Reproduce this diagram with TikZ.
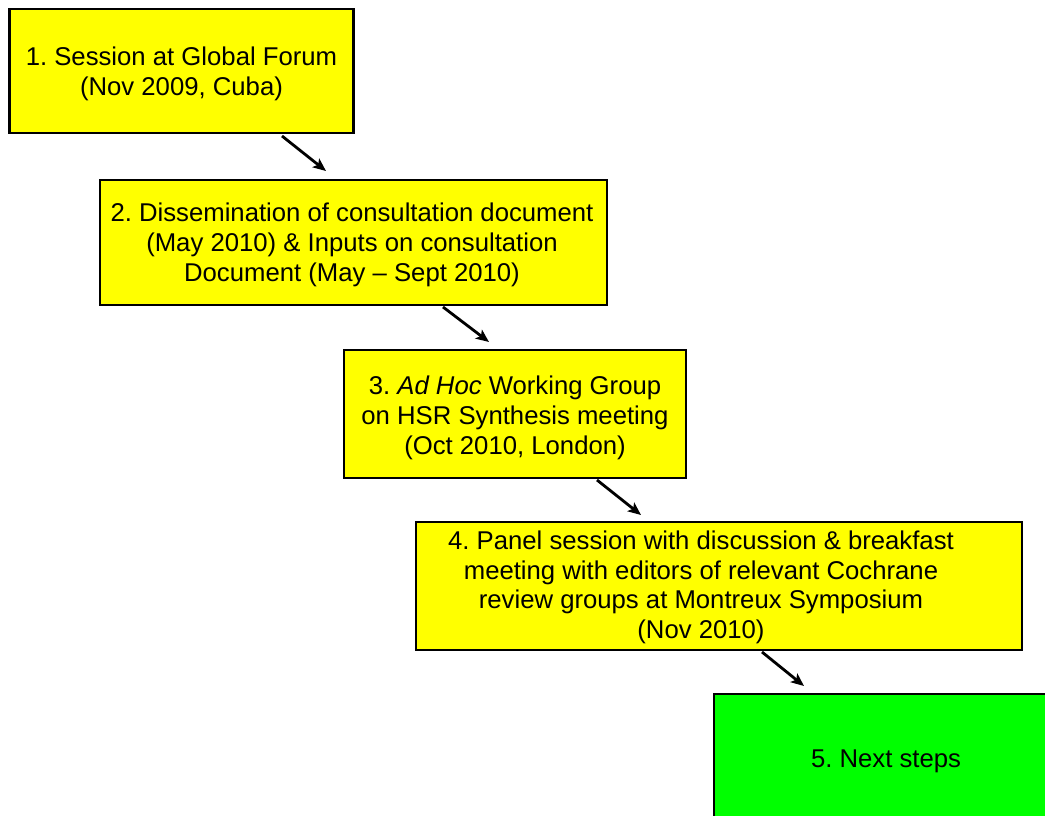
\documentclass[tikz,border=0pt]{standalone}
\usepackage{fontspec}
\setmainfont{Liberation Sans}
\usetikzlibrary{arrows.meta,calc}
\definecolor{stageyellow}{RGB}{255,255,0}
\definecolor{nextgreen}{RGB}{0,255,0}
\frenchspacing
\begin{document}
\begin{tikzpicture}[x=1pt,y=-1pt,
  stagebox/.style={draw=black, line width=2.8pt, fill=stageyellow, inner sep=0pt,
    outer sep=0pt, anchor=north west},
  nextbox/.style={stagebox, fill=nextgreen},
  label/.style={align=center, inner sep=0pt, font=\fontsize{25.7}{30}\selectfont},
  flow/.style={line width=2.8pt, -{Stealth[length=13pt,width=11pt,inset=3pt]}}]
\useasboundingbox (0,0) rectangle (1045,816);
\clip (0,0) rectangle (1045,816);
\fill[white] (0,0) rectangle (1045,816);

% stage frames
\node[stagebox, minimum width=344pt, minimum height=124pt] (b1) at (9.5,9) {};
\node[stagebox, minimum width=507pt, minimum height=125pt] (b2) at (100,180) {};
\node[stagebox, minimum width=342pt, minimum height=128pt] (b3) at (344,350) {};
\node[stagebox, minimum width=606pt, minimum height=128pt] (b4) at (416,522) {};
\node[nextbox, minimum width=345pt, minimum height=135pt] (b5) at (714,694) {};

% stage texts
\node[label] (t1) at (181.5,74) {1. Session at Global Forum\\(Nov 2009, Cuba)};
\node[label] (t2) at (352,245) {2. Dissemination of consultation document\\(May 2010) \& Inputs on consultation\\Document (May -- Sept 2010)};
\node[label] (t3) at (515,417.5) {3. \textit{Ad Hoc} Working Group\\on HSR Synthesis meeting\\(Oct 2010, London)};
\node[label, font=\fontsize{25.7}{29.5}\selectfont] (t4) at (701,587.5) {4. Panel session with discussion \& breakfast\\meeting with editors of relevant Cochrane\\review groups at Montreux Symposium\\(Nov 2010)};
\node[label] (t5) at (886,761.5) {5. Next steps};

% connectors between stages
\draw[flow] ($(b1.south west)+(272.5,3)$) -- ($(b2.north west)+(226,-9)$);
\draw[flow] ($(b2.south west)+(343,2)$) -- ($(b3.north west)+(145,-8)$);
\draw[flow] ($(b3.south west)+(253,2)$) -- ($(b4.north west)+(225,-7)$);
\draw[flow] ($(b4.south west)+(346,2)$) -- ($(b5.north west)+(90,-8)$);
\end{tikzpicture}
\end{document}
